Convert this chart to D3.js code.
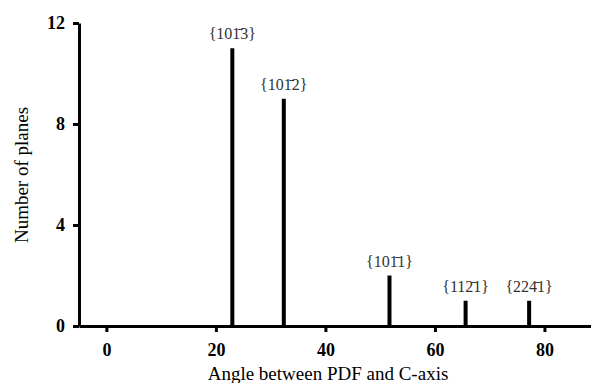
<!DOCTYPE html>
<html lang="en">
<head>
<meta charset="utf-8">
<title>Planes vs angle</title>
<script src="https://cdn.jsdelivr.net/npm/d3@7"></script>
<style>
  body { margin: 0; background: #fff; }
  svg text { font-family: "Liberation Serif", "Times New Roman", serif; }
</style>
</head>
<body>
<script>
// data
var angles = [23.0, 32.4, 51.7, 65.6, 77.2];
var counts = [11, 9, 2, 1, 1];
// Miller-Bravais labels: text before barred digit, barred digit, text after
var labelPre = ["{10", "{10", "{10", "{11", "{22"];
var labelBar = ["1", "1", "1", "2", "4"];
var labelPost = ["3}", "2}", "1}", "1}", "1}"];
var xTicks = [0, 20, 40, 60, 80];
var yTicks = [0, 4, 8, 12];

var w = 591, h = 383;

var svg = d3.select("body").append("svg")
  .attr("width", w)
  .attr("height", h);

var xScale = d3.scaleLinear().domain([-5, 88.5]).range([79, 591]);
var yScale = d3.scaleLinear().domain([0, 12]).range([326, 23]);

// bars
svg.selectAll("rect.bar")
  .data(counts)
  .enter()
  .append("rect")
  .attr("class", "bar")
  .attr("x", function(d, i) { return xScale(angles[i]) - 2; })
  .attr("y", function(d) { return yScale(d); })
  .attr("width", 4)
  .attr("height", function(d) { return yScale(0) - yScale(d); })
  .attr("fill", "#000");

// x axis
var xAxis = d3.axisBottom(xScale).tickValues(xTicks).tickSize(6).tickSizeOuter(0);
var gx = svg.append("g")
  .attr("transform", "translate(0," + yScale(0) + ")")
  .call(xAxis);
gx.select(".domain").attr("stroke-width", 3);
gx.selectAll(".tick line").attr("stroke-width", 3);
gx.selectAll(".tick text")
  .attr("font-size", "18px")
  .attr("font-weight", "bold")
  .attr("fill", "#000")
  .attr("dy", 0)
  .attr("y", 30);

// y axis
var yAxis = d3.axisLeft(yScale).tickValues(yTicks).tickSize(6).tickSizeOuter(0);
var gy = svg.append("g")
  .attr("transform", "translate(" + xScale(-5) + ",0)")
  .call(yAxis);
gy.select(".domain").attr("stroke-width", 3);
gy.selectAll(".tick line").attr("stroke-width", 3);
gy.selectAll(".tick text")
  .attr("font-size", "18px")
  .attr("font-weight", "bold")
  .attr("fill", "#000")
  .attr("x", -14);

// plane labels
var labels = svg.selectAll("text.plane")
  .data(counts)
  .enter()
  .append("text")
  .attr("class", "plane")
  .attr("x", function(d, i) { return xScale(angles[i]); })
  .attr("y", function(d) { return yScale(d) - 9; })
  .attr("text-anchor", "middle")
  .attr("font-size", "16px")
  .attr("fill", "#333");
labels.append("tspan").text(function(d, i) { return labelPre[i]; });
labels.append("tspan").text(function(d, i) { return labelBar[i] + "\u0304"; });
labels.append("tspan").text(function(d, i) { return labelPost[i]; });

// axis titles
svg.append("text")
  .attr("x", 328)
  .attr("y", 380)
  .attr("text-anchor", "middle")
  .attr("font-size", "19px")
  .attr("fill", "#000")
  .text("Angle between PDF and C-axis");

svg.append("text")
  .attr("transform", "translate(28,175) rotate(-90)")
  .attr("text-anchor", "middle")
  .attr("font-size", "19px")
  .attr("fill", "#000")
  .text("Number of planes");
</script>
</body>
</html>
